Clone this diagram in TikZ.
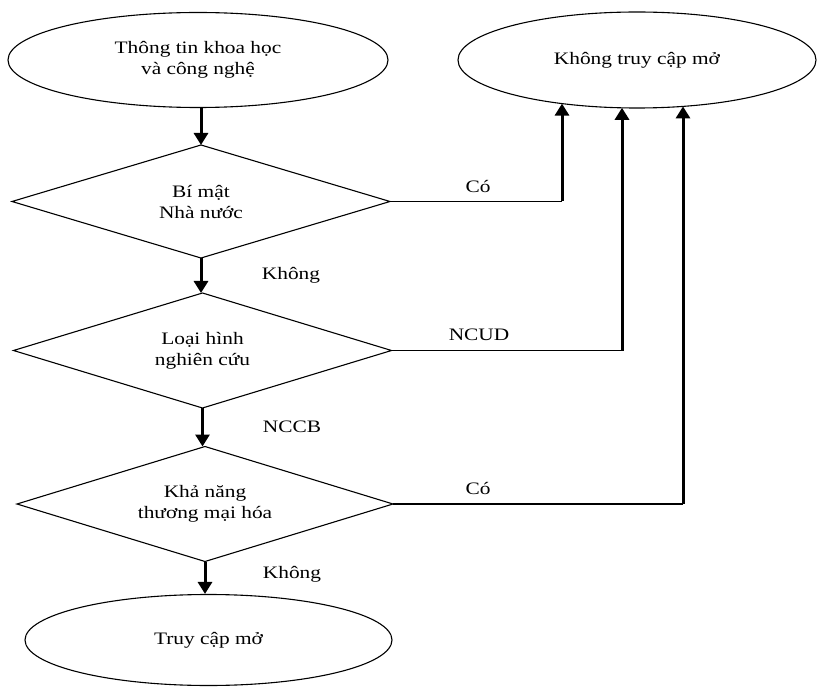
\documentclass[tikz,border=0pt]{standalone}
\usepackage{fontspec}
\setmainfont{Liberation Serif}[FakeStretch=1.22]
\usetikzlibrary{shapes.geometric,arrows.meta}
\begin{document}
\begin{tikzpicture}[x=1pt,y=-1pt,
  txt/.style={font=\fontsize{17.5}{21}\selectfont, align=center},
  oval/.style={ellipse, draw, line width=1.1pt, inner sep=0pt, txt},
  decide/.style={diamond, aspect=3.4, draw, line width=1.1pt, inner sep=0pt, outer sep=0pt, txt},
  flow/.style={line width=3pt, -{Triangle[width=14pt,length=12pt]}},
  side/.style={line width=1.4pt},
  lbl/.style={txt, inner sep=0pt}]
\useasboundingbox (0,0) rectangle (817,687);
\node[oval, minimum width=380pt, minimum height=95pt] (src) at (198,60) {Thông tin khoa học\\và công nghệ};
\node[oval, minimum width=358pt, minimum height=96pt] (closed) at (637,60) {Không truy cập mở};
\node[decide, minimum width=378pt, minimum height=113pt] (d1) at (201,201.5) {Bí mật\\Nhà nước};
\node[decide, minimum width=378pt, minimum height=115pt] (d2) at (202.5,350.5) {Loại hình\\nghiên cứu};
\node[decide, minimum width=376pt, minimum height=115pt] (d3) at (205,504) {Khả năng\\thương mại hóa};
\node[oval, minimum width=367pt, minimum height=91pt] (open) at (208.5,640) {Truy cập mở};

\coordinate (c1) at (562,201.5);
\coordinate (t1) at (562,103.6);
\coordinate (c2) at (622,350.5);
\coordinate (t2) at (622,107.8);
\coordinate (c3) at (683,504);
\coordinate (t3) at (683,106.4);

\draw[flow] (src.south -| d1.north) -- (d1.north);
\draw[flow] (d1.south) -- (d1.south |- d2.north);
\draw[flow] (d2.south) -- (d2.south |- d3.north);
\draw[flow] (d3.south) -- (d3.south |- open.north);

\draw[side] (d1.east) -- (c1);
\draw[flow] (c1) -- (t1);
\draw[side] (d2.east) -- (c2);
\draw[flow] (c2) -- (t2);
\draw[side] (d3.east) -- (c3);
\draw[flow] (c3) -- (t3);

\node[lbl] (l1) at (291,275) {Không};
\node[lbl] (l2) at (292,427) {NCCB};
\node[lbl] (l3) at (292,574) {Không};
\node[lbl] (l4) at (478,187) {Có};
\node[lbl] (l5) at (479,335) {NCUD};
\node[lbl] (l6) at (478,488) {Có};
\end{tikzpicture}
\end{document}
